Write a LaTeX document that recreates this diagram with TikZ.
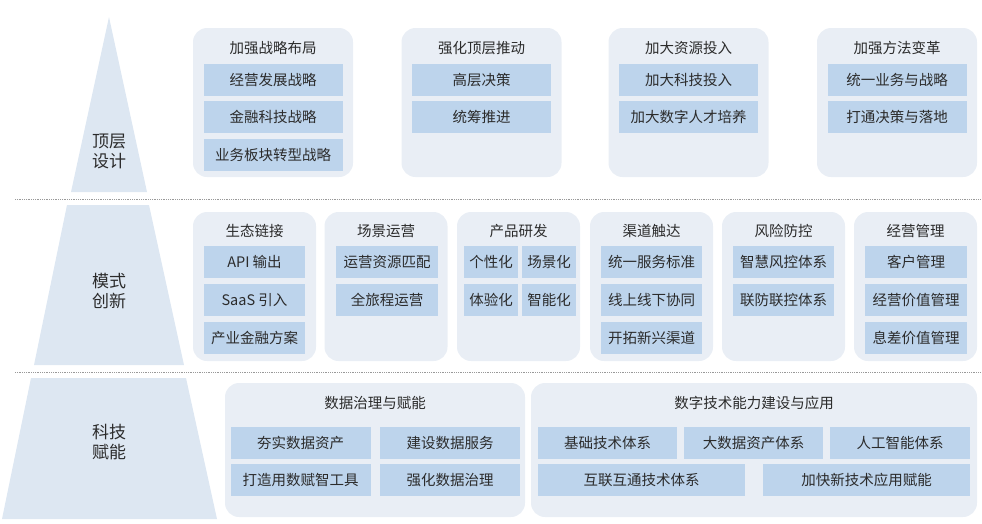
\documentclass[tikz,border=0pt]{standalone}
\usepackage{fontspec}
\setmainfont{Noto Sans CJK SC}
\usepackage{tikz}

\definecolor{panelbg}{HTML}{E9EEF5}
\definecolor{itembg}{HTML}{BDD4EC}
\definecolor{pyrbg}{HTML}{DDE7F2}
\definecolor{txt}{HTML}{2B2B2B}

\tikzset{
	panel/.style={fill=panelbg, rounded corners=14pt, inner sep=0pt},
	head/.style={text=txt, font=\fontsize{14.5}{17}\selectfont},
	item/.style={fill=itembg, text=txt, inner sep=0pt, minimum height=32pt, font=\fontsize{14.5}{17}\selectfont},
	layer/.style={text=txt, align=center, font=\fontsize{17}{20}\selectfont},
	sep/.style={draw=gray!80, densely dotted, line width=0.8pt}
}

\begin{document}
\begin{tikzpicture}[x=1pt,y=-1pt]
	\useasboundingbox (0,0) rectangle (982,523);

	% pyramid
	\fill[pyrbg] (109,17) -- (147,192) -- (71,192) -- cycle;
	\fill[pyrbg] (67,205) -- (149,205) -- (184,365) -- (34,365) -- cycle;
	\fill[pyrbg] (31,378) -- (186,378) -- (217,519) -- (2,519) -- cycle;
	\node (L1)[layer] at (109,151){顶层\\设计};
	\node (L2)[layer] at (109,291){模式\\创新};
	\node (L3)[layer] at (109,442){科技\\赋能};

	\draw[sep] (15,199) -- (980,199);
	\draw[sep] (15,372) -- (980,372);

	% top row
	\node (P1)[panel, minimum width=160pt, minimum height=149pt] at (273,102.5){};
	\node (P2)[panel, minimum width=160pt, minimum height=149pt] at (481.5,102.5){};
	\node (P3)[panel, minimum width=160pt, minimum height=149pt] at (688.5,102.5){};
	\node (P4)[panel, minimum width=160pt, minimum height=149pt] at (897,102.5){};

	\node (T1)[head] at (273,48){加强战略布局};
	\node (T2)[head] at (481.5,48){强化顶层推动};
	\node (T3)[head] at (688.5,48){加大资源投入};
	\node (T4)[head] at (897,48){加强方法变革};

	\node (P1a)[item, minimum width=139pt] at (273,80){经营发展战略};
	\node (P1b)[item, minimum width=139pt] at (273,117){金融科技战略};
	\node (P1c)[item, minimum width=139pt] at (273,155){业务板块转型战略};
	\node (P2a)[item, minimum width=139pt] at (481.5,80){高层决策};
	\node (P2b)[item, minimum width=139pt] at (481.5,117){统筹推进};
	\node (P3a)[item, minimum width=139pt] at (688.5,80){加大科技投入};
	\node (P3b)[item, minimum width=139pt] at (688.5,117){加大数字人才培养};
	\node (P4a)[item, minimum width=139pt] at (897,80){统一业务与战略};
	\node (P4b)[item, minimum width=139pt] at (897,117){打通决策与落地};

	% middle row
	\node (Q1)[panel, minimum width=123pt, minimum height=149pt] at (254.5,286.5){};
	\node (Q2)[panel, minimum width=123pt, minimum height=149pt] at (386,286.5){};
	\node (Q3)[panel, minimum width=123pt, minimum height=149pt] at (518.5,286.5){};
	\node (Q4)[panel, minimum width=123pt, minimum height=149pt] at (651.5,286.5){};
	\node (Q5)[panel, minimum width=123pt, minimum height=149pt] at (783.5,286.5){};
	\node (Q6)[panel, minimum width=123pt, minimum height=149pt] at (915.5,286.5){};

	\node (U1)[head] at (254.5,231){生态链接};
	\node (U2)[head] at (386,231){场景运营};
	\node (U3)[head] at (518.5,231){产品研发};
	\node (U4)[head] at (651.5,231){渠道触达};
	\node (U5)[head] at (783.5,231){风险防控};
	\node (U6)[head] at (915.5,231){经营管理};

	\node (Q1a)[item, minimum width=101pt] at (254.5,262){API 输出};
	\node (Q1b)[item, minimum width=101pt] at (254.5,300){SaaS 引入};
	\node (Q1c)[item, minimum width=101pt] at (254.5,338){产业金融方案};
	\node (Q2a)[item, minimum width=102pt] at (387,262){运营资源匹配};
	\node (Q2b)[item, minimum width=102pt] at (387,300){全旅程运营};
	\node (Q3a)[item, minimum width=54pt] at (491,262){个性化};
	\node (Q3b)[item, minimum width=54pt] at (549,262){场景化};
	\node (Q3c)[item, minimum width=54pt] at (491,300){体验化};
	\node (Q3d)[item, minimum width=54pt] at (549,300){智能化};
	\node (Q4a)[item, minimum width=101pt] at (651.5,262){统一服务标准};
	\node (Q4b)[item, minimum width=101pt] at (651.5,300){线上线下协同};
	\node (Q4c)[item, minimum width=101pt] at (651.5,338){开拓新兴渠道};
	\node (Q5a)[item, minimum width=101pt] at (783.5,262){智慧风控体系};
	\node (Q5b)[item, minimum width=101pt] at (783.5,300){联防联控体系};
	\node (Q6a)[item, minimum width=102pt] at (916,262){客户管理};
	\node (Q6b)[item, minimum width=102pt] at (916,300){经营价值管理};
	\node (Q6c)[item, minimum width=102pt] at (916,338){息差价值管理};

	% bottom row
	\node (R1)[panel, minimum width=300pt, minimum height=134pt] at (375,450){};
	\node (R2)[panel, minimum width=446pt, minimum height=134pt] at (754,450){};

	\node (V1)[head] at (375,403){数据治理与赋能};
	\node (V2)[head] at (754,403){数字技术能力建设与应用};

	\node (R1a)[item, minimum width=140pt] at (300.5,443){夯实数据资产};
	\node (R1b)[item, minimum width=140pt] at (450,443){建设数据服务};
	\node (R1c)[item, minimum width=140pt] at (300.5,480){打造用数赋智工具};
	\node (R1d)[item, minimum width=140pt] at (450,480){强化数据治理};
	\node (R2a)[item, minimum width=139pt] at (607.5,443){基础技术体系};
	\node (R2b)[item, minimum width=139pt] at (753.5,443){大数据资产体系};
	\node (R2c)[item, minimum width=140pt] at (900,443){人工智能体系};
	\node (R2d)[item, minimum width=207pt] at (641.5,480){互联互通技术体系};
	\node (R2e)[item, minimum width=207pt] at (866.5,480){加快新技术应用赋能};

\end{tikzpicture}
\end{document}
